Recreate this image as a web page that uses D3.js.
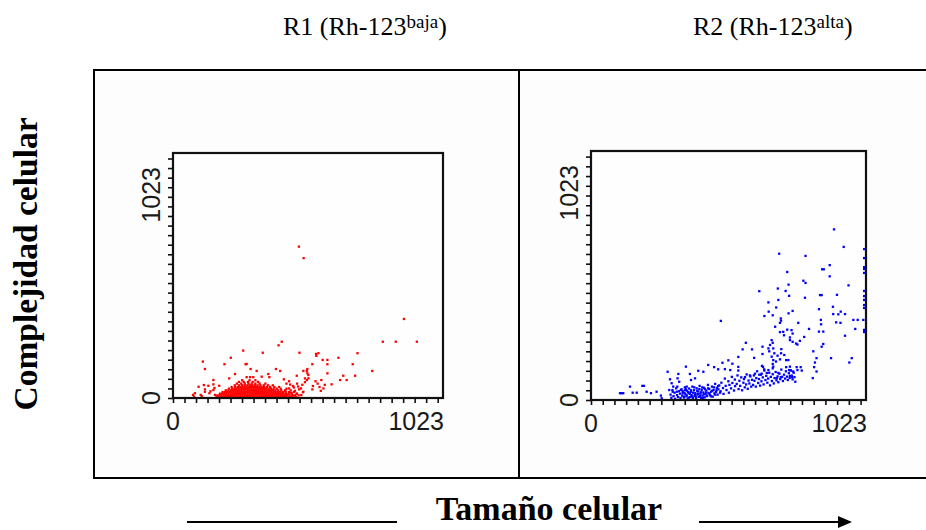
<!DOCTYPE html>
<html>
<head>
<meta charset="utf-8">
<script src="https://cdn.jsdelivr.net/npm/d3@7"></script>
<style>
  html, body { margin: 0; padding: 0; background: #ffffff; }
  svg { display: block; }
</style>
</head>
<body>
<svg id="chart" width="926" height="530"></svg>
<script>
// Gate names, probe and intensity level for each dot plot
const gateNames = ["R1", "R2"];
const probeNames = ["Rh-123", "Rh-123"];
const probeLevels = ["baja", "alta"];
const axisTickLabels = ["0", "1023"];
const channelMax = 1023;
const xAxisTitle = "Tamaño celular";
const yAxisTitle = "Complejidad celular";

// R1 events: [forward scatter channel, side scatter channel]
const r1Events = [
  [165,4],[173,4],[181,4],[189,4],[197,4],[205,4],[213,4],[221,4],[229,4],[237,4],[245,4],[253,4],[261,4],[269,4],[277,4],[285,4],[293,4],[301,4],[309,4],[317,4],[325,4],[333,4],[341,4],[349,4],[357,4],[365,4],[373,4],[381,4],[389,4],[397,4],[405,4],[413,4],[421,4],[429,4],[438,4],[447,4],[456,4],[466,4],
  [168,11],[176,11],[184,11],[192,11],[200,11],[208,11],[216,11],[224,11],[232,11],[240,11],[248,11],[256,11],[264,11],[272,11],[280,11],[288,11],[296,11],[304,11],[312,11],[320,11],[328,11],[336,11],[344,11],[352,11],[360,11],[368,11],[376,11],[384,11],[392,11],[400,11],[408,11],[416,11],[424,11],[433,11],[442,11],[452,11],[463,11],[476,11],
  [178,18],[186,18],[194,18],[202,18],[210,18],[218,18],[226,18],[234,18],[242,18],[250,18],[258,18],[266,18],[274,18],[282,18],[290,18],[298,18],[306,18],[314,18],[322,18],[330,18],[338,18],[346,18],[354,18],[362,18],[370,18],[378,18],[386,18],[394,18],[402,18],[410,18],[419,18],[428,18],[438,18],[450,18],[468,18],
  [188,25],[197,25],[205,25],[213,25],[221,25],[229,25],[237,25],[245,25],[253,25],[261,25],[269,25],[277,25],[285,25],[293,25],[301,25],[309,25],[317,25],[325,25],[333,25],[341,25],[349,25],[357,25],[365,25],[373,25],[381,25],[389,25],[397,25],[406,25],[416,25],[427,25],[440,25],[458,25],
  [200,32],[210,32],[219,32],[227,32],[235,32],[243,32],[251,32],[259,32],[267,32],[275,32],[283,32],[291,32],[299,32],[307,32],[315,32],[323,32],[331,32],[339,32],[347,32],[355,32],[363,32],[371,32],[379,32],[388,32],[398,32],[410,32],[425,32],[446,32],
  [212,39],[224,39],[233,39],[241,39],[249,39],[257,39],[265,39],[273,39],[281,39],[289,39],[297,39],[305,39],[313,39],[321,39],[329,39],[337,39],[345,39],[353,39],[362,39],[371,39],[381,39],[393,39],[408,39],[430,39],
  [222,46],[236,46],[246,46],[255,46],[263,46],[271,46],[279,46],[287,46],[295,46],[303,46],[311,46],[319,46],[327,46],[336,46],[345,46],[356,46],[368,46],[384,46],[402,46],
  [234,53],[250,53],[262,53],[272,53],[282,53],[291,53],[300,53],[310,53],[320,53],[331,53],[344,53],[360,53],[378,53],
  [242,60],[258,60],[272,60],[286,60],[298,60],[312,60],[328,60],[350,60],
  [250,67],[268,67],[284,67],[302,67],[322,67],
  [262,74],[290,74],[312,74],
  [80,5],[83,20],[76,13],[97,47],[105,13],[109,8],[117,54],[121,26],[121,36],[134,51],[138,20],[142,28],[153,33],[153,57],[153,75],[157,42],[159,13],[175,51],
  [113,152],[121,121],[195,141],[219,168],[266,198],[340,189],[400,220],[412,235],[479,189],[279,142],[294,121],[317,113],[390,121],[406,113],[507,113],
  [235,100],[279,87],[292,87],[304,87],[361,100],[365,87],[336,89],[213,82],[469,93],[500,82],[513,96],[275,141],
  [477,632],[495,584],[875,330],[795,235],[844,235],[924,235],
  [542,184],[551,187],[543,176],[567,159],[585,159],[585,141],[627,168],[699,187],[681,141],[528,141],[509,121],[494,113],[509,103],[585,103],
  [645,93],[690,93],[755,113],[633,75],[658,75],[601,57],[507,75],[500,66],[513,82],[530,50],[540,70],[548,60],[555,46],[562,75],[570,40],[575,55],
  [560,30],[528,36],[494,26],[485,40],[490,55],[470,60],[455,50],[440,70],[430,60],[420,78],
  [415,20],[425,30],[432,14],[440,40],[448,22],[455,10],[462,30],[470,18],[478,36],[486,12],[492,24],[474,48],[458,44],[444,56]
];

// R2 events: [forward scatter channel, side scatter channel]
const r2Events = [
  [904,701],[940,629],[700,601],[798,592],[730,526],[888,554],[860,537],[866,537],[888,508],[790,490],[798,481],[735,474],[958,471],
  [695,458],[724,448],[626,447],[852,431],[858,431],[915,432],[737,428],[796,420],
  [1016,620],[1016,583],[1016,546],[1016,538],[1016,522],[1016,448],[1016,427],[1016,411],[1016,390],[1016,378],[1013,329],[1016,288],[1016,279],
  [660,401],[697,411],[689,380],[661,363],[676,348],[645,345],[706,335],[707,326],[735,356],[750,366],[848,373],[900,383],[901,353],[929,363],[945,353],[920,352],
  [855,329],[856,311],[848,281],[864,281],[976,329],[992,329],[912,319],[928,317],[945,264],[983,292],[483,325],[771,317],[811,292],
  [685,301],[703,279],[715,280],[730,289],[746,287],[750,273],[740,257],[718,266],[703,317],[672,246],[676,235],[666,226],[678,212],
  [740,246],[750,239],[763,232],[768,228],[777,243],[793,259],[827,200],[839,172],[833,154],[830,135],[825,90],[839,117],[858,219],[864,230],
  [893,172],[961,154],[970,172],[682,192],[694,182],[707,192],[708,209],[672,178],[678,164],[676,148],[660,212],[663,200],[638,219],[638,189],
  [719,185],[726,164],[734,164],[703,167],[688,158],[726,135],[740,137],[743,121],[737,123],[765,135],[780,135],[784,121],[752,117],[768,123],
  [760,75],[748,94],[740,99],[576,235],[564,208],[599,208],[607,173],[548,177],[548,136],[526,149],[511,163],[489,153],[458,135],[473,126],
  [498,127],[518,123],[548,121],[636,140],[640,136],[644,126],[660,123],[654,111],[678,137],[676,130],[697,111],[706,94],[691,90],
  [573,94],[591,101],[610,108],[626,104],[635,108],
  [108,28],[114,28],[120,28],[145,55],[155,30],[170,30],[191,58],[197,58],[207,34],[223,28],[244,34],[260,18],[263,7],[285,116],
  [294,85],[300,69],[306,55],[291,41],[304,34],[325,107],[322,89],[328,75],[321,55],[319,34],[334,41],[341,28],[350,41],[356,55],
  [353,137],[368,107],[372,82],[387,89],[399,120],[418,116],[436,144],
  [296,22],[299,9],[303,41],[307,16],[311,30],[313,5],[317,48],[320,20],[324,12],[327,36],[331,26],[333,8],[337,44],[339,18],[343,31],
  [346,10],[349,52],[351,24],[355,15],[357,38],[360,6],[363,28],[365,47],[369,12],[371,33],[374,20],[377,55],[379,9],[383,40],[385,17],
  [388,28],[391,6],[393,48],[396,22],[399,35],[401,13],[404,58],[407,26],[410,8],[412,42],[415,18],[418,31],[421,50],[423,11],[426,24],
  [429,39],[432,16],[435,62],[437,29],[440,45],[443,20],[447,34],[450,55],[453,14],[456,41],[459,27],[462,66],[465,33],[468,50],[471,22],
  [474,44],[477,60],[480,30],
  [341,36],[345,14],[348,29],[353,44],[356,19],[361,33],[364,10],[368,25],[372,40],[375,15],[380,30],[384,52],[387,21],[390,12],[395,38],
  [398,25],[403,45],[406,17],[409,32],[414,52],[417,9],[420,24],[424,44],[428,31],[431,18],[436,48],[441,26],[446,15],[451,38],[457,52],
  [462,22],[467,40],[473,57],
  [482,36],[485,71],[491,49],[493,25],[498,88],[501,58],[504,41],[511,77],[513,30],[515,62],[521,48],[524,95],[526,70],[532,39],[535,84],
  [536,57],[542,66],[545,101],[549,45],[552,79],[555,58],[559,93],[562,40],[567,71],[569,86],[572,52],[577,64],[579,105],[583,46],[586,80],
  [589,68],[593,97],[596,55],[599,83],
  [603,62],[606,101],[608,79],[613,55],[615,90],[618,118],[622,70],[625,86],[629,59],[632,104],[634,77],[639,93],[642,64],[645,121],[649,82],
  [652,99],[656,71],[659,88],[663,112],[666,60],[669,95],[673,78],[676,106],[680,68],[683,90],[687,115],[690,81],[694,97],[697,73],[701,108],
  [704,86],[708,125],[711,95],[714,78],[718,104],[722,88],[725,118],[729,96],[732,82],[736,110],[739,91],[743,122],[747,100],[750,85],[754,112],
  [757,94]
];

const svg = d3.select("#chart");
const serif = "'Liberation Serif', 'Times New Roman', serif";
const sans = "'Liberation Sans', Arial, sans-serif";

// Outer frame split into two panels
svg.append("rect")
  .attr("x", 94).attr("y", 70)
  .attr("width", 900).attr("height", 408)
  .attr("fill", "#fdfdfd").attr("stroke", "#000").attr("stroke-width", 2);
svg.append("line")
  .attr("x1", 519).attr("x2", 519).attr("y1", 70).attr("y2", 478)
  .attr("stroke", "#000").attr("stroke-width", 2);

const panels = [
  { events: r1Events, color: "#ff0000", left: 173, right: 443, top: 153, bottom: 398, titleX: 283 },
  { events: r2Events, color: "#0000ff", left: 591, right: 866, top: 151, bottom: 400, titleX: 693 }
];

const xMinorTicks = d3.range(0, 1005, 43.6);
const yMinorTicks = d3.range(0, 1001, 40);

panels.forEach((p, i) => {
  const x = d3.scaleLinear().domain([0, channelMax]).range([p.left, p.right]);
  const y = d3.scaleLinear().domain([0, channelMax]).range([p.bottom, p.top]);

  // Gate title with superscript intensity level
  const title = svg.append("text")
    .attr("x", p.titleX).attr("y", 35)
    .attr("font-family", serif).attr("font-size", 26).attr("fill", "#000");
  title.append("tspan").text(`${gateNames[i]} (${probeNames[i]}`);
  title.append("tspan").attr("font-size", 19).attr("dy", -7).text(probeLevels[i]);
  title.append("tspan").attr("dy", 7).text(")");

  // Plot area background
  svg.append("rect")
    .attr("x", p.left).attr("y", p.top)
    .attr("width", p.right - p.left).attr("height", p.bottom - p.top)
    .attr("fill", "#fefefe");

  // Events
  svg.append("g")
    .selectAll("rect")
    .data(p.events)
    .join("rect")
    .attr("x", d => x(d[0]) - 1.15)
    .attr("y", d => y(d[1]) - 1.15)
    .attr("width", 2.3).attr("height", 2.3)
    .attr("fill", p.color);

  // Minor tick marks
  const gx = svg.append("g")
    .attr("transform", `translate(0,${p.bottom})`)
    .call(d3.axisBottom(x).tickValues(xMinorTicks).tickSize(5).tickSizeOuter(0).tickFormat(""));
  const gy = svg.append("g")
    .attr("transform", `translate(${p.left},0)`)
    .call(d3.axisLeft(y).tickValues(yMinorTicks).tickSize(5).tickSizeOuter(0).tickFormat(""));
  [gx, gy].forEach(g => {
    g.select(".domain").remove();
    g.selectAll(".tick line").attr("stroke", "#111").attr("stroke-width", 1.6);
  });

  // Plot frame
  svg.append("rect")
    .attr("x", p.left).attr("y", p.top)
    .attr("width", p.right - p.left).attr("height", p.bottom - p.top)
    .attr("fill", "none").attr("stroke", "#111").attr("stroke-width", 2.2);

  // Axis end labels
  const lab = svg.append("g")
    .attr("font-family", sans).attr("font-size", 25).attr("fill", "#1a1a1a");
  lab.append("text")
    .attr("x", x(0)).attr("y", p.bottom + 32)
    .attr("text-anchor", "middle").text(axisTickLabels[0]);
  lab.append("text")
    .attr("x", x(channelMax) + 1).attr("y", p.bottom + 32)
    .attr("text-anchor", "end").text(axisTickLabels[1]);
  lab.append("text")
    .attr("transform", `translate(${p.left - 13},${y(0)}) rotate(-90)`)
    .attr("text-anchor", "middle").text(axisTickLabels[0]);
  lab.append("text")
    .attr("transform", `translate(${p.left - 13},${y(channelMax) + 14}) rotate(-90)`)
    .attr("text-anchor", "end").text(axisTickLabels[1]);
});

// Shared axis titles
svg.append("text")
  .attr("transform", "translate(37,264) rotate(-90)")
  .attr("text-anchor", "middle")
  .attr("font-family", serif).attr("font-weight", "bold").attr("font-size", 33.5)
  .attr("fill", "#000")
  .text(yAxisTitle);

svg.append("text")
  .attr("x", 549).attr("y", 520)
  .attr("text-anchor", "middle")
  .attr("font-family", serif).attr("font-weight", "bold").attr("font-size", 34)
  .attr("fill", "#000")
  .text(xAxisTitle);

// Direction arrow under the panels
svg.append("line")
  .attr("x1", 187).attr("x2", 397).attr("y1", 522).attr("y2", 522)
  .attr("stroke", "#000").attr("stroke-width", 2);
svg.append("line")
  .attr("x1", 699).attr("x2", 842).attr("y1", 522).attr("y2", 522)
  .attr("stroke", "#000").attr("stroke-width", 2);
svg.append("path")
  .attr("d", "M838,516 L852,522 L838,528 Z")
  .attr("fill", "#000");
</script>
</body>
</html>
